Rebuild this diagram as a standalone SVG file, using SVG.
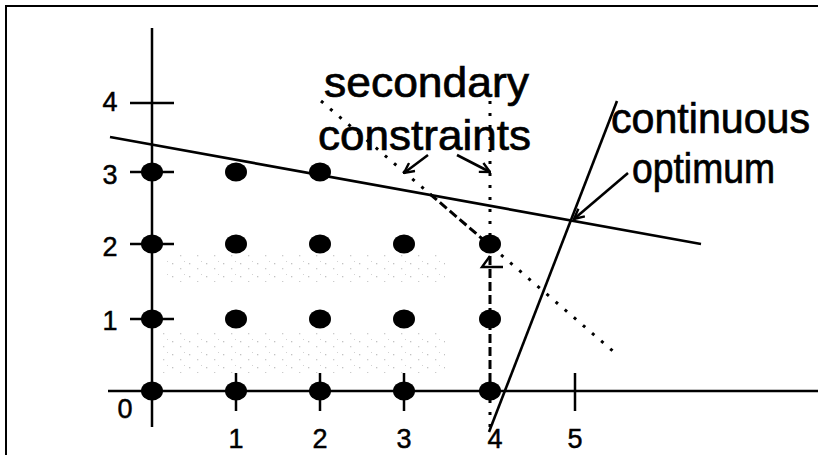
<svg xmlns="http://www.w3.org/2000/svg" width="818" height="455" viewBox="0 0 818 455">
<defs>
<style>
.ax{stroke:#000;stroke-width:2.5;fill:none}
.ln{stroke:#000;stroke-width:2.6;fill:none}
.dot{fill:#000}
.dotted{stroke:#000;stroke-width:3;stroke-dasharray:3 9;fill:none}
.dashed{stroke:#000;stroke-width:3;stroke-dasharray:9 4;fill:none}
.big{font-family:"Liberation Sans",Arial,sans-serif;font-size:43px;fill:#000;stroke:#000;stroke-width:0.7}
.num{font-family:"Liberation Sans",Arial,sans-serif;font-size:27px;fill:#000;stroke:#000;stroke-width:0.5;text-anchor:middle}
</style>
<marker id="v" viewBox="0 0 12 12" refX="11" refY="6" markerWidth="12" markerHeight="12" markerUnits="userSpaceOnUse" orient="auto">
<path d="M1,1 L11,6 L1,11" stroke="#000" stroke-width="2.4" fill="none"/>
</marker>
<pattern id="stip" width="17" height="13" patternUnits="userSpaceOnUse">
<rect x="2" y="3" width="1.3" height="1.3" fill="#9a9a9a"/>
<rect x="10" y="8" width="1.3" height="1.3" fill="#aaa"/>
<rect x="14" y="1" width="1" height="1" fill="#b5b5b5"/>
</pattern>
</defs>
<rect width="818" height="455" fill="#fff"/>
<g id="frame">
<line x1="5" y1="6" x2="818" y2="6" stroke="#000" stroke-width="2"/>
<line x1="6" y1="6" x2="6" y2="455" stroke="#000" stroke-width="2"/>
</g>
<g id="shading" opacity="0.6">
<rect x="165" y="252" width="280" height="30" fill="url(#stip)"/>
<rect x="160" y="333" width="285" height="40" fill="url(#stip)"/>
</g>
<g id="axes">
<line class="ax" x1="152" y1="28" x2="152" y2="427"/>
<line class="ax" x1="108" y1="391" x2="818" y2="391"/>
<line class="ax" x1="130" y1="103" x2="174" y2="103"/>
<line class="ax" x1="130" y1="172" x2="174" y2="172"/>
<line class="ax" x1="130" y1="244" x2="174" y2="244"/>
<line class="ax" x1="130" y1="319" x2="174" y2="319"/>
<line class="ax" x1="236" y1="373" x2="236" y2="411"/>
<line class="ax" x1="320" y1="373" x2="320" y2="411"/>
<line class="ax" x1="404" y1="373" x2="404" y2="411"/>
<line class="ax" x1="575" y1="373" x2="575" y2="411"/>
</g>
<g id="axis-labels">
<text class="num" x="110" y="111">4</text>
<text class="num" x="110" y="184">3</text>
<text class="num" x="110" y="256">2</text>
<text class="num" x="110" y="330">1</text>
<text class="num" x="125" y="418">0</text>
<text class="num" x="236" y="448">1</text>
<text class="num" x="320" y="448">2</text>
<text class="num" x="404" y="448">3</text>
<text class="num" x="495" y="448">4</text>
<text class="num" x="575" y="448">5</text>
</g>
<g id="points">
<ellipse class="dot" cx="152" cy="172" rx="11" ry="9.5"/>
<ellipse class="dot" cx="236" cy="172" rx="11" ry="9.5"/>
<ellipse class="dot" cx="320" cy="172" rx="11" ry="9.5"/>
<ellipse class="dot" cx="152" cy="244" rx="11" ry="9.5"/>
<ellipse class="dot" cx="236" cy="244" rx="11" ry="9.5"/>
<ellipse class="dot" cx="320" cy="244" rx="11" ry="9.5"/>
<ellipse class="dot" cx="404" cy="244" rx="11" ry="9.5"/>
<ellipse class="dot" cx="490" cy="244" rx="11" ry="9.5"/>
<ellipse class="dot" cx="152" cy="319" rx="11" ry="9.5"/>
<ellipse class="dot" cx="236" cy="319" rx="11" ry="9.5"/>
<ellipse class="dot" cx="320" cy="319" rx="11" ry="9.5"/>
<ellipse class="dot" cx="404" cy="319" rx="11" ry="9.5"/>
<ellipse class="dot" cx="490" cy="319" rx="11" ry="9.5"/>
<ellipse class="dot" cx="152" cy="391" rx="11" ry="9.5"/>
<ellipse class="dot" cx="236" cy="391" rx="11" ry="9.5"/>
<ellipse class="dot" cx="320" cy="391" rx="11" ry="9.5"/>
<ellipse class="dot" cx="404" cy="391" rx="11" ry="9.5"/>
<ellipse class="dot" cx="490" cy="391" rx="11" ry="9.5"/>
</g>
<g id="constraints">
<line class="ln" x1="110" y1="137" x2="701" y2="244"/>
<line class="ln" x1="617" y1="101" x2="489" y2="432"/>
<line class="dotted" x1="321" y1="101" x2="430" y2="194"/>
<line class="dashed" x1="430" y1="194" x2="486" y2="242"/>
<line class="dotted" x1="492" y1="247" x2="614" y2="352"/>
<line class="dotted" x1="490" y1="101" x2="490" y2="240"/>
<line class="dashed" x1="490" y1="256" x2="490" y2="391"/>
<line class="dotted" x1="490" y1="400" x2="490" y2="432"/>
<path d="M490,256 L482,267 L503,267" stroke="#000" stroke-width="2.4" fill="none"/>
</g>
<g id="connectors">
<line class="ln" x1="428" y1="155" x2="404" y2="173" marker-end="url(#v)"/>
<line class="ln" x1="457" y1="155" x2="490" y2="172" marker-end="url(#v)"/>
<line class="ln" x1="628" y1="173" x2="574" y2="219" marker-end="url(#v)"/>
</g>
<g id="label-secondary">
<text class="big" x="324" y="97" textLength="205" lengthAdjust="spacingAndGlyphs">secondary</text>
<text class="big" x="318" y="150" textLength="213" lengthAdjust="spacingAndGlyphs">constraints</text>
</g>
<g id="label-optimum">
<text class="big" x="611" y="133" textLength="199" lengthAdjust="spacingAndGlyphs">continuous</text>
<text class="big" x="632" y="183" textLength="143" lengthAdjust="spacingAndGlyphs">optimum</text>
</g>
</svg>
